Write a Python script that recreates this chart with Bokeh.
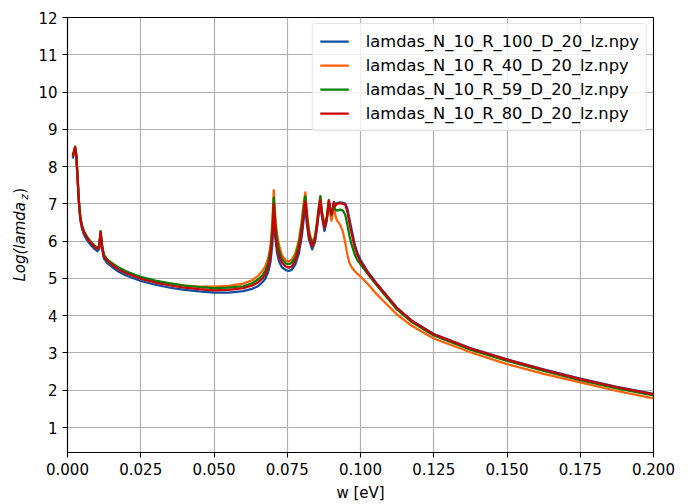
from bokeh.plotting import figure
from bokeh.layouts import row
from bokeh.models import Legend, LegendItem, FixedTicker, PrintfTickFormatter
from bokeh.core.properties import value
from bokeh.embed import file_html
from bokeh.resources import INLINE
import math

# Frequency samples w [eV]
w = [0.0018, 0.0022, 0.0026, 0.0030, 0.0034, 0.0039, 0.0044, 0.0050, 0.0056, 0.0067,
     0.0080, 0.0092, 0.0102, 0.0108, 0.0113, 0.0118, 0.0124, 0.0135, 0.0150, 0.0175,
     0.020, 0.025, 0.030, 0.035, 0.040, 0.045, 0.050, 0.055, 0.060, 0.063, 0.065,
     0.0665, 0.0675, 0.0685, 0.0693, 0.0699, 0.0704, 0.0709, 0.0715, 0.0722, 0.0732,
     0.0745, 0.0755, 0.0765, 0.0778, 0.0790, 0.0800, 0.0807, 0.0812, 0.0817, 0.0824,
     0.0835, 0.0845, 0.0852, 0.0858, 0.0863, 0.0868, 0.0877, 0.0885, 0.0892, 0.0897,
     0.0901, 0.0905, 0.0909, 0.0914, 0.0920, 0.0930, 0.0940, 0.0948, 0.0955, 0.0962,
     0.0970, 0.0980, 0.0990, 0.1000,
     0.1025, 0.105, 0.108, 0.1125, 0.1175, 0.125, 0.1375, 0.15, 0.1625, 0.175, 0.1875, 0.2]

# Log(lamda_z) for each radius
lz_R100 = [8.22, 8.36, 8.49, 8.26, 7.71, 7.00, 6.55, 6.32, 6.18, 6.02,
           5.89, 5.79, 5.73, 5.79, 6.18, 5.79, 5.54, 5.42, 5.32, 5.18,
           5.08, 4.93, 4.83, 4.75, 4.69, 4.65, 4.62, 4.62, 4.66, 4.72, 4.79,
           4.90, 4.99, 5.17, 5.45, 5.90, 6.80, 6.10, 5.70, 5.45, 5.30,
           5.22, 5.20, 5.23, 5.38, 5.68, 6.15, 6.65, 6.95, 6.45, 6.05,
           5.78, 5.98, 6.38, 6.78, 7.00, 6.68, 6.27, 6.55, 7.05, 6.85,
           6.72, 6.87, 7.05, 6.98, 7.02, 7.04, 7.03, 7.01, 6.88, 6.60,
           6.30, 5.92, 5.68, 5.50,
           5.18, 4.92, 4.63, 4.21, 3.87, 3.51, 3.13, 2.83, 2.56, 2.31, 2.09, 1.90]

lz_R40 = [8.27, 8.40, 8.52, 8.30, 7.76, 7.06, 6.62, 6.40, 6.26, 6.10,
          5.97, 5.87, 5.81, 5.87, 6.26, 5.87, 5.62, 5.50, 5.40, 5.27,
          5.17, 5.02, 4.93, 4.86, 4.81, 4.78, 4.78, 4.80, 4.86, 4.95, 5.07,
          5.20, 5.32, 5.55, 5.90, 6.50, 7.37, 6.70, 6.20, 5.90, 5.62,
          5.48, 5.45, 5.50, 5.68, 6.05, 6.60, 7.10, 7.31, 6.80, 6.30,
          5.95, 6.15, 6.55, 6.95, 7.20, 6.80, 6.45, 6.65, 7.10, 6.70,
          6.55, 6.70, 7.00, 6.70, 6.55, 6.45, 6.25, 5.95, 5.65, 5.42,
          5.30, 5.20, 5.12, 5.05,
          4.85, 4.62, 4.38, 4.03, 3.73, 3.39, 3.02, 2.70, 2.44, 2.21, 1.98, 1.78]

lz_R59 = [8.29, 8.42, 8.54, 8.32, 7.78, 7.08, 6.63, 6.41, 6.27, 6.11,
          5.98, 5.88, 5.82, 5.88, 6.27, 5.89, 5.64, 5.52, 5.42, 5.29,
          5.19, 5.04, 4.94, 4.87, 4.81, 4.77, 4.74, 4.75, 4.79, 4.87, 4.97,
          5.08, 5.20, 5.42, 5.75, 6.30, 7.17, 6.50, 6.05, 5.75, 5.52,
          5.40, 5.38, 5.42, 5.58, 5.92, 6.45, 6.95, 7.20, 6.70, 6.22,
          5.92, 6.10, 6.50, 6.90, 7.20, 6.80, 6.40, 6.62, 7.10, 6.85,
          6.70, 6.82, 7.00, 6.85, 6.82, 6.85, 6.82, 6.70, 6.45, 6.15,
          5.90, 5.65, 5.48, 5.38,
          5.12, 4.87, 4.58, 4.16, 3.83, 3.47, 3.09, 2.79, 2.52, 2.27, 2.05, 1.86]

lz_R80 = [8.27, 8.40, 8.52, 8.30, 7.75, 7.05, 6.60, 6.38, 6.24, 6.08,
          5.95, 5.85, 5.79, 5.85, 6.24, 5.85, 5.60, 5.48, 5.38, 5.24,
          5.14, 4.99, 4.89, 4.81, 4.75, 4.71, 4.68, 4.69, 4.74, 4.81, 4.89,
          5.00, 5.10, 5.30, 5.60, 6.10, 6.99, 6.30, 5.85, 5.60, 5.42,
          5.32, 5.29, 5.32, 5.48, 5.80, 6.30, 6.80, 7.06, 6.60, 6.15,
          5.86, 6.05, 6.45, 6.85, 7.10, 6.75, 6.36, 6.60, 7.08, 6.85,
          6.72, 6.85, 7.04, 6.95, 7.00, 7.02, 7.00, 6.98, 6.80, 6.50,
          6.20, 5.85, 5.62, 5.45,
          5.15, 4.90, 4.62, 4.20, 3.86, 3.50, 3.12, 2.82, 2.55, 2.30, 2.08, 1.89]

series_names = ["lamdas_N_10_R_100_D_20_lz.npy", "lamdas_N_10_R_40_D_20_lz.npy",
                "lamdas_N_10_R_59_D_20_lz.npy", "lamdas_N_10_R_80_D_20_lz.npy"]
series_values = [lz_R100, lz_R40, lz_R59, lz_R80]
series_colors = ["#0c4fa0", "#ff5f05", "#008000", "#cc0000"]

x_ticks = [0.0, 0.025, 0.05, 0.075, 0.1, 0.125, 0.15, 0.175, 0.2]
y_ticks = [1, 2, 3, 4, 5, 6, 7, 8, 9, 10, 11, 12]

FONT = "DejaVu Sans"
FS = "15px"
LABEL_W = 30  # width of the strip that carries the rotated y-axis title

p = figure(width=693 - LABEL_W, height=504, x_range=(0, 0.2), y_range=(0.33, 12),
           output_backend="svg", toolbar_location=None,
           min_border_left=67 - LABEL_W, min_border_right=40,
           min_border_top=17, min_border_bottom=50)
p.background_fill_color = "white"
p.border_fill_color = "white"
p.outline_line_color = "black"
p.outline_line_width = 1.1

items = []
for name, vals, col in zip(series_names, series_values, series_colors):
    r = p.line(w, vals, line_color=col, line_width=2.25, line_join="round")
    items.append(LegendItem(label=name, renderers=[r]))

# axes
p.xaxis.ticker = FixedTicker(ticks=x_ticks)
p.xaxis.formatter = PrintfTickFormatter(format="%.3f")
p.yaxis.ticker = FixedTicker(ticks=y_ticks)
for ax in (p.xaxis[0], p.yaxis[0]):
    ax.major_label_text_font = FONT
    ax.major_label_text_font_size = FS
    ax.major_label_text_color = "black"
    ax.major_tick_out = 5
    ax.major_tick_in = 0
    ax.minor_tick_out = 0
    ax.minor_tick_in = 0
    ax.major_tick_line_color = "black"
    ax.major_tick_line_width = 1.1
    ax.axis_line_color = "black"
    ax.axis_line_width = 1.1
    ax.major_label_standoff = 5
p.xaxis.axis_label = "w [eV]"
p.xaxis.axis_label_text_font = FONT
p.xaxis.axis_label_text_font_size = FS
p.xaxis.axis_label_text_font_style = "normal"
p.xaxis.axis_label_text_color = "black"
p.xaxis.axis_label_standoff = 6

p.grid.grid_line_color = "#b0b0b0"
p.grid.grid_line_width = 1.2

legend = Legend(items=items, location="top_right")
legend.label_text_font = FONT
legend.label_text_font_size = "16.3px"
legend.label_text_color = "black"
legend.glyph_width = 29
legend.glyph_height = 20
legend.label_height = 20
legend.label_standoff = 17
legend.spacing = 4
legend.padding = 7
legend.margin = 6
legend.border_line_color = "#cccccc"
legend.border_line_width = 1
legend.background_fill_alpha = 0.8
if "border_radius" in Legend.properties():
    legend.border_radius = 3
p.add_layout(legend)

# y-axis title Log(lamda_z): a narrow strip holding rotated text pieces
ylab = figure(width=LABEL_W, height=504, x_range=(0, LABEL_W), y_range=(0, 504),
              output_backend="svg", toolbar_location=None,
              x_axis_type=None, y_axis_type=None,
              min_border_left=0, min_border_right=0, min_border_top=0, min_border_bottom=0)
ylab.outline_line_color = None
ylab.grid.visible = False
ylab.background_fill_color = "white"
ylab.border_fill_color = "white"

ylab.text(x=[19], y=[198], text=["Log(lamda"], angle=math.pi / 2,
          text_font=value(FONT), text_font_size=value("15px"), text_font_style=value("italic"),
          text_align="left", text_baseline="alphabetic", text_color="black")
ylab.text(x=[23], y=[292.8], text=["z"], angle=math.pi / 2,
          text_font=value(FONT), text_font_size=value("10.5px"), text_font_style=value("italic"),
          text_align="left", text_baseline="alphabetic", text_color="black")
ylab.text(x=[19], y=[299.9], text=[")"], angle=math.pi / 2,
          text_font=value(FONT), text_font_size=value("15px"), text_font_style=value("normal"),
          text_align="left", text_baseline="alphabetic", text_color="black")

layout = row(ylab, p, spacing=0)
open("out.html", "w").write(file_html(layout, INLINE))
